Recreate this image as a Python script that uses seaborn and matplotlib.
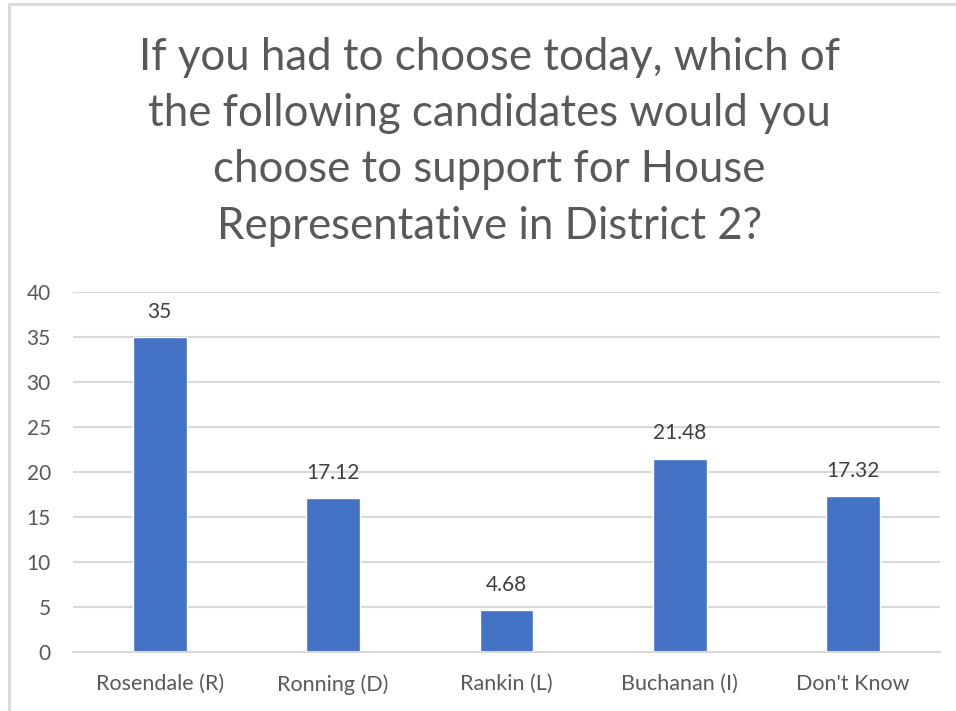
import matplotlib
matplotlib.use("Agg")
import matplotlib.pyplot as plt
import seaborn as sns
import pandas as pd
from matplotlib.lines import Line2D

# chart data
candidates = ["Rosendale (R)", "Ronning (D)", "Rankin (L)", "Buchanan (I)", "Don't Know"]
support = [35, 17.12, 4.68, 21.48, 17.32]
value_labels = ["35", "17.12", "4.68", "21.48", "17.32"]
y_ticks = [0, 5, 10, 15, 20, 25, 30, 35, 40]

title = ("If you had to choose today, which of\n"
         "the following candidates would you\n"
         "choose to support for House\n"
         "Representative in District 2?")

sns.set_style("white")
plt.rcParams["font.family"] = ["Lato", "DejaVu Sans"]

text_gray = "#595959"
bar_blue = "#4472C4"
grid_gray = "#D9D9D9"

df = pd.DataFrame({"candidate": candidates, "support": support})

fig = plt.figure(figsize=(9.56, 7.11), dpi=100)
ax = fig.add_axes([0.0764, 0.083, 0.9066, 0.5063])

sns.barplot(data=df, x="candidate", y="support", color=bar_blue,
            width=0.31, saturation=1, ax=ax)

ax.set_ylim(0, 40)
ax.set_yticks(y_ticks)
ax.set_yticklabels([str(t) for t in y_ticks])
ax.set_xlim(-0.5, len(candidates) - 0.5)
ax.set_xlabel("")
ax.set_ylabel("")

ax.yaxis.grid(True, color=grid_gray, linewidth=1.5)
ax.set_axisbelow(True)
for side in ["top", "right", "left"]:
    ax.spines[side].set_visible(False)
ax.spines["bottom"].set_color(grid_gray)
ax.spines["bottom"].set_linewidth(1.5)

ax.tick_params(axis="both", length=0, labelcolor=text_gray)
ax.tick_params(axis="x", pad=16, labelsize=15.5)
ax.tick_params(axis="y", pad=16, labelsize=15)

for i, (v, lbl) in enumerate(zip(support, value_labels)):
    ax.annotate(lbl, (i, v), xytext=(0, 11), textcoords="offset points",
                ha="center", va="bottom", fontsize=15, color="#404040")

fig.text(0.512, 0.948, title, ha="center", va="top", fontsize=31.5,
         color=text_gray, linespacing=1.46)

# chart border (left and top edges)
fig.add_artist(Line2D([0.0094, 0.0094], [0, 0.9945], transform=fig.transFigure,
                      color=grid_gray, linewidth=2))
fig.add_artist(Line2D([0.0094, 1], [0.9945, 0.9945], transform=fig.transFigure,
                      color=grid_gray, linewidth=2))

fig.savefig("out.png", dpi=100)
